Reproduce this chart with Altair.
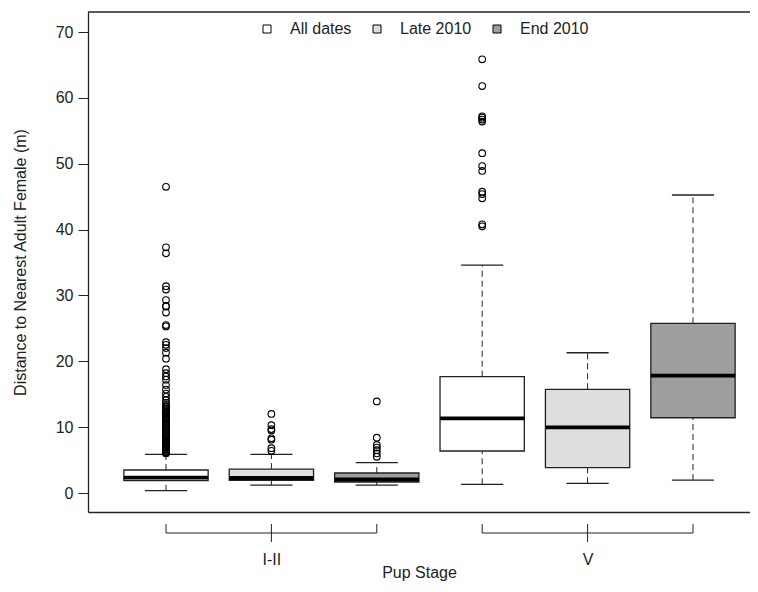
import altair as alt
import pandas as pd

# ---------------- data ----------------
group_names = ["All dates", "Late 2010", "End 2010"]
group_fills = ["#FFFFFF", "#DEDEDE", "#9E9E9E"]

box_group = ["All dates", "Late 2010", "End 2010", "All dates", "Late 2010", "End 2010"]
box_stage = ["I-II", "I-II", "I-II", "V", "V", "V"]
box_pos = [1, 2, 3, 4, 5, 6]
whisk_lo = [0.35, 1.21, 1.21, 1.32, 1.47, 1.97]
q1 = [1.87, 1.93, 1.67, 6.38, 3.84, 11.43]
median = [2.32, 2.28, 2.05, 11.34, 9.98, 17.81]
q3 = [3.49, 3.64, 3.04, 17.66, 15.75, 25.77]
whisk_hi = [5.88, 5.88, 4.60, 34.6, 21.3, 45.25]

out_all_12 = [46.5, 37.3, 36.4, 31.4, 30.9, 29.3, 28.4, 28.3, 27.4, 25.5, 25.3,
              22.9, 22.5, 22.0, 21.3, 20.4, 18.8, 18.2, 17.7, 17.2, 16.4, 15.7,
              15.1, 14.6, 14.1, 13.7, 13.4, 13.2, 13.0, 12.8, 12.6, 12.4, 12.3,
              12.1, 11.9, 11.8, 11.6, 11.4, 11.3, 11.1, 10.9, 10.8, 10.6, 10.5,
              10.3, 10.2, 10.0, 9.9, 9.7, 9.6, 9.4, 9.3, 9.1, 9.0, 8.8, 8.7, 8.6,
              8.4, 8.3, 8.1, 8.0, 7.9, 7.7, 7.6, 7.5, 7.3, 7.2, 7.1, 6.9, 6.8,
              6.7, 6.6, 6.4, 6.3, 6.2, 6.1, 6.0]
out_late_12 = [12.0, 10.3, 9.7, 9.5, 8.3, 8.1, 6.8, 6.4]
out_end_12 = [13.9, 8.4, 7.3, 6.9, 6.5, 6.0, 5.5]
out_all_v = [65.85, 61.8, 57.2, 57.0, 56.7, 56.4, 51.6, 49.65, 48.9, 45.75,
             45.4, 44.75, 40.8, 40.5]
out_late_v = []
out_end_v = []
outliers = [out_all_12, out_late_12, out_end_12, out_all_v, out_late_v, out_end_v]

stage_labels = ["I-II", "V"]
stage_center = [2, 5]
stage_start = [1, 4]
stage_end = [3, 6]

y_ticks = [0, 10, 20, 30, 40, 50, 60, 70]

# ---------------- tables ----------------
BOX_HALF = 0.4
STAPLE_HALF = 0.2

boxes = pd.DataFrame({
    "pos": box_pos, "group": box_group, "stage": box_stage,
    "wlo": whisk_lo, "q1": q1, "med": median, "q3": q3, "whi": whisk_hi,
})
boxes["xlo"] = boxes["pos"] - BOX_HALF
boxes["xhi"] = boxes["pos"] + BOX_HALF
boxes["slo"] = boxes["pos"] - STAPLE_HALF
boxes["shi"] = boxes["pos"] + STAPLE_HALF

out_rows = []
for p, vals in zip(box_pos, outliers):
    for v in vals:
        out_rows.append({"pos": p, "value": v})
outs = pd.DataFrame(out_rows)

brackets = pd.DataFrame({"start": stage_start, "end": stage_end,
                         "center": stage_center, "label": stage_labels})
bracket_ends = pd.DataFrame({"x": stage_start + stage_end})

# ---------------- styling ----------------
FONT = "Liberation Sans"
INK = "#222222"
FS = 16
W, H = 662, 500

xscale = alt.Scale(domain=[0.26, 6.541], nice=False, zero=False)
yscale = alt.Scale(domain=[-2.885, 73.04], nice=False, zero=False)

label_expr = " : ".join(
    f"datum.value == {c} ? '{l}'" for c, l in zip(stage_center, stage_labels)
) + " : ''"

# bottom axis: its domain line is the bottom edge of the frame
X_AXIS = alt.Axis(values=stage_center, labelExpr=label_expr, ticks=False,
                  domain=True, domainColor=INK, domainWidth=1.3, grid=False,
                  labelPadding=39, labelFontSize=FS,
                  labelFont=FONT, labelColor=INK, titleFont=FONT,
                  titleFontSize=FS, titleFontWeight="normal", titleColor=INK,
                  titleY=60, titleBaseline="middle")
Y_AXIS = alt.Axis(values=y_ticks, grid=False, domainColor=INK, domainWidth=1.3,
                  tickColor=INK, tickSize=10, labelPadding=5, labelFontSize=FS,
                  labelFont=FONT, labelColor=INK, titleFont=FONT,
                  titleFontSize=FS, titleFontWeight="normal", titleColor=INK,
                  titleAngle=270, titleX=-68, titleY=250, titleAlign="center",
                  titleBaseline="middle")
XT = "Pup Stage"
YT = "Distance to Nearest Adult Female (m)"

base = alt.Chart(boxes)

whisk_up = base.mark_rule(color=INK, strokeWidth=1, strokeDash=[6, 4]).encode(
    x=alt.X("pos:Q", scale=xscale, axis=X_AXIS, title=XT),
    y=alt.Y("q3:Q", scale=yscale, axis=Y_AXIS, title=YT),
    y2="whi:Q",
)
whisk_dn = base.mark_rule(color=INK, strokeWidth=1, strokeDash=[6, 4]).encode(
    x=alt.X("pos:Q", scale=xscale, axis=X_AXIS, title=XT),
    y=alt.Y("wlo:Q", scale=yscale, axis=Y_AXIS, title=YT),
    y2="q1:Q",
)
staple_hi = base.mark_rule(color=INK, strokeWidth=1.3).encode(
    x=alt.X("slo:Q", scale=xscale, axis=X_AXIS, title=XT), x2="shi:Q",
    y=alt.Y("whi:Q", scale=yscale, axis=Y_AXIS, title=YT),
)
staple_lo = base.mark_rule(color=INK, strokeWidth=1.3).encode(
    x=alt.X("slo:Q", scale=xscale, axis=X_AXIS, title=XT), x2="shi:Q",
    y=alt.Y("wlo:Q", scale=yscale, axis=Y_AXIS, title=YT),
)
rects = base.mark_rect(stroke=INK, strokeWidth=1.3).encode(
    x=alt.X("xlo:Q", scale=xscale, axis=X_AXIS, title=XT), x2="xhi:Q",
    y=alt.Y("q1:Q", scale=yscale, axis=Y_AXIS, title=YT), y2="q3:Q",
    fill=alt.Fill("group:N",
                  scale=alt.Scale(domain=group_names, range=group_fills),
                  legend=alt.Legend(orient="none", legendX=171, legendY=9,
                                    direction="horizontal", title=None,
                                    symbolType="square", symbolSize=64,
                                    symbolStrokeColor="black",
                                    symbolStrokeWidth=1, labelFontSize=FS,
                                    labelFont=FONT, labelColor=INK,
                                    labelOffset=15, columnPadding=17,
                                    padding=0)),
)
meds = base.mark_rule(color="black", strokeWidth=3.8).encode(
    x=alt.X("xlo:Q", scale=xscale, axis=X_AXIS, title=XT), x2="xhi:Q",
    y=alt.Y("med:Q", scale=yscale, axis=Y_AXIS, title=YT),
)
points = alt.Chart(outs).mark_point(shape="circle", filled=False, color="black",
                                    size=44, strokeWidth=1.1, opacity=1).encode(
    x=alt.X("pos:Q", scale=xscale, axis=X_AXIS, title=XT),
    y=alt.Y("value:Q", scale=yscale, axis=Y_AXIS, title=YT),
)

# top edge of the frame, drawn as a thin filled strip (no stroke)
frame_top = alt.Chart(alt.Data(values=[{}])).mark_rect(
    color=INK, strokeWidth=0).encode(
    x=alt.value(0), x2=alt.value(W), y=alt.value(-0.65), y2=alt.value(0.65))

# group brackets below the axis
br_line = alt.Chart(brackets).mark_rule(color=INK, strokeWidth=1).encode(
    x=alt.X("start:Q", scale=xscale, axis=X_AXIS, title=XT), x2="end:Q",
    y=alt.value(H + 21))
br_ends = alt.Chart(bracket_ends).mark_rule(color=INK, strokeWidth=1).encode(
    x=alt.X("x:Q", scale=xscale, axis=X_AXIS, title=XT),
    y=alt.value(H + 12), y2=alt.value(H + 21))
br_mid = alt.Chart(brackets).mark_rule(color=INK, strokeWidth=1).encode(
    x=alt.X("center:Q", scale=xscale, axis=X_AXIS, title=XT),
    y=alt.value(H + 12), y2=alt.value(H + 30))

chart = alt.layer(
    whisk_up, whisk_dn, staple_hi, staple_lo, rects, meds, points,
    frame_top, br_line, br_ends, br_mid,
).properties(
    width=W, height=H,
    autosize=alt.AutoSizeParams(type="none"),
    padding={"left": 80, "top": 4, "right": 0, "bottom": 72},
    background="white",
).configure_view(strokeWidth=0, stroke="transparent")

chart.save("out.html", embed_options={"renderer": "svg", "actions": False})
